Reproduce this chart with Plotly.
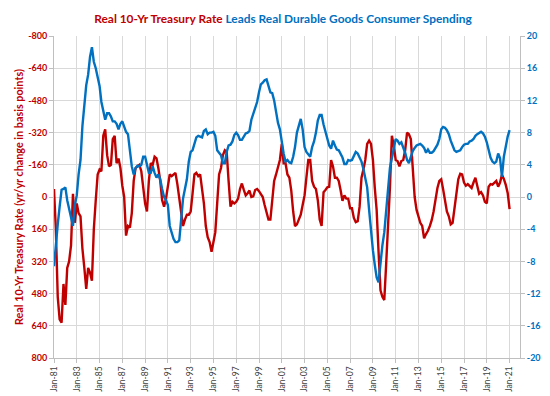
import pandas as pd
import plotly.graph_objects as go

# Bimonthly observations, Jan-1981 .. Jan-2021
start_date = "1981-01-01"
n_points = 241

treasury_bp = [
    -40, 160, 496, 608, 624, 432, 536, 352, 320, 240,
    -16, 128, 32, 80, 96, 256, 352, 456, 352, 376,
    416, 160, 16, -112, -136, -128, -304, -336, -208, -152,
    -160, -288, -304, -168, -192, -144, -56, 0, 192, 144,
    152, 80, -80, -144, -152, -160, -128, -48, 32, 72,
    -80, -168, -160, -200, -192, -144, -80, 16, 48, 8,
    -64, -112, -104, -112, -120, -64, 8, 96, 144, 112,
    88, 88, 72, -16, -112, -120, -104, -112, -32, 32,
    144, 200, 224, 272, 224, 176, 32, -112, -144, -208,
    -232, -224, -80, 48, 24, 32, 24, 8, -40, -67,
    -35, -8, -19, -32, 0, -3, -35, -40, -29, -13,
    0, 40, 72, 112, 112, 0, -80, -112, -152, -184,
    -264, -168, -168, -112, -96, -32, 72, 144, 136, 112,
    88, 40, -8, -96, -184, -184, -80, -51, -40, 16,
    112, 144, -24, -35, -48, -51, -184, -152, -96, -96,
    -80, -35, 19, -8, 8, 8, 56, 56, 104, 125,
    120, 48, -96, -136, -184, -264, -280, -264, -184, -48,
    64, 272, 464, 496, 512, 336, 160, -48, -304, -256,
    -184, -179, -152, -179, -184, -232, -320, -312, -288, -128,
    0, 64, 104, 128, 144, 205, 184, 168, 144, 115,
    72, 13, -45, -80, -88, -40, 8, 72, 96, 136,
    128, 48, -32, -88, -115, -112, -72, -56, -64, -56,
    -45, -72, -96, -56, -16, -24, -8, 24, 32, -51,
    -64, -61, -70, -80, -51, -72, -110, -90, -60, -20,
    60,
]

durables_roc = [
    -8.6, -5.6, -3.4, -1.2, 0.9, 1.0, 1.2, -0.4, -1.6, -2.6,
    -3.6, -1.0, 0.2, 2.8, 4.6, 8.8, 11.4, 13.9, 15.2, 17.4,
    18.6, 16.8, 16.0, 15.0, 13.8, 11.8, 10.6, 9.6, 10.4, 10.4,
    10.0, 9.4, 9.4, 9.1, 8.4, 9.1, 9.4, 8.6, 8.1, 7.8,
    5.6, 3.8, 2.8, 3.6, 3.9, 3.8, 4.0, 5.0, 5.0, 3.8,
    3.0, 3.0, 3.8, 3.0, 2.4, 2.8, 2.2, 1.0, 0.0, -0.4,
    -1.0, -3.6, -4.4, -5.2, -5.6, -5.6, -5.4, -2.4, -0.2, 1.0,
    2.2, 4.4, 5.6, 5.8, 6.8, 7.4, 7.6, 7.5, 7.4, 8.2,
    8.4, 7.8, 8.0, 8.0, 8.1, 7.6, 5.8, 5.5, 5.2, 4.2,
    4.2, 5.6, 6.4, 6.5, 6.9, 7.7, 8.0, 7.7, 7.1, 7.1,
    7.6, 7.9, 8.0, 8.2, 9.6, 10.3, 10.9, 11.8, 13.0, 14.0,
    14.2, 14.5, 14.6, 13.6, 13.0, 12.9, 12.0, 10.6, 9.2, 8.4,
    6.8, 5.4, 4.4, 4.6, 4.3, 4.2, 5.0, 6.2, 8.0, 8.8,
    9.7, 8.4, 6.2, 5.6, 5.3, 5.0, 6.2, 6.9, 8.0, 9.5,
    10.2, 10.2, 9.0, 8.1, 7.0, 6.4, 6.0, 7.0, 6.4, 5.9,
    5.8, 5.3, 4.9, 4.1, 4.1, 4.6, 4.5, 4.6, 5.1, 5.6,
    5.4, 4.9, 4.4, 3.5, 2.4, 1.2, -1.6, -4.4, -6.6, -8.4,
    -10.0, -10.6, -8.0, -6.0, -4.4, -2.0, 1.2, 3.6, 4.8, 6.0,
    7.2, 7.0, 6.6, 6.8, 6.2, 5.5, 4.6, 4.2, 5.0, 5.7,
    6.1, 6.4, 6.5, 6.6, 6.4, 6.1, 5.5, 5.9, 5.5, 5.5,
    5.7, 6.1, 6.5, 7.2, 8.4, 8.7, 8.6, 8.3, 7.8, 7.0,
    6.3, 5.8, 5.6, 5.7, 5.8, 6.2, 6.5, 6.6, 6.6, 6.9,
    7.0, 7.2, 7.6, 7.8, 8.0, 8.1, 7.9, 7.5, 6.8, 5.8,
    4.9, 4.4, 4.2, 4.4, 5.4, 4.8, 2.5, 5.0, 6.5, 7.5,
    8.3,
]

left_ticks = [-800, -640, -480, -320, -160, 0, 160, 320, 480, 640, 800]
right_ticks = [20, 16, 12, 8, 4, 0, -4, -8, -12, -16, -20]

title_red = "Real 10-Yr Treasury Rate"
title_blue = "Leads Real Durable Goods Consumer Spending"
left_title = "Real 10-Yr Treasury Rate (yr/yr change in basis points)"
right_title = "Real Durable Goods Consumer Spending (12-mo ROC)"

RED = "#C00000"
BLUE = "#0070C0"
GRID = "#D9D9D9"
AXIS = "#BFBFBF"
FONT = "Lato"

dates = pd.date_range(start_date, periods=n_points, freq="2MS")

fig = go.Figure()
fig.add_trace(go.Scatter(x=dates, y=treasury_bp, mode="lines",
                         line=dict(color=RED, width=2.4), yaxis="y",
                         showlegend=False))
fig.add_trace(go.Scatter(x=dates, y=durables_roc, mode="lines",
                         line=dict(color=BLUE, width=2.4), yaxis="y2",
                         showlegend=False))

fig.update_layout(
    width=550, height=396,
    margin=dict(l=46, r=38, t=28, b=34),
    paper_bgcolor="white", plot_bgcolor="white",
    font=dict(family=FONT),
    title=dict(
        text=f"<b><span style='color:{RED}'>{title_red}</span> "
             f"<span style='color:{BLUE}'>{title_blue}</span></b>",
        x=0.5, xanchor="center", xref="container",
        y=1 - 11 / 396, yanchor="middle", yref="container",
        font=dict(family=FONT, size=11.9),
    ),
    xaxis=dict(
        type="date",
        range=["1981-01-01", "2021-12-01"],
        tick0="1981-01-01", dtick="M24", tickformat="%b-%y",
        tickangle=-90,
        tickfont=dict(family=FONT, size=8.5, color="#404040"),
        showgrid=True, gridcolor=GRID, gridwidth=1,
        showline=True, linecolor=AXIS, linewidth=1,
        ticks="outside", ticklen=4, tickcolor=AXIS,
        zeroline=False,
    ),
    yaxis=dict(
        range=[800, -800],
        tickvals=left_ticks, ticktext=[str(v) for v in left_ticks],
        tickfont=dict(family=FONT, size=9, color=RED, weight="bold"),
        showgrid=True, gridcolor=GRID, gridwidth=1,
        showline=True, linecolor=AXIS, linewidth=1,
        ticks="outside", ticklen=4, tickcolor=AXIS,
        zeroline=False,
    ),
    yaxis2=dict(
        range=[-20, 20], overlaying="y", side="right",
        tickvals=right_ticks, ticktext=[str(v) for v in right_ticks],
        tickfont=dict(family=FONT, size=9, color=BLUE, weight="bold"),
        showgrid=False,
        showline=True, linecolor=AXIS, linewidth=1,
        ticks="outside", ticklen=4, tickcolor=AXIS,
        zeroline=False,
    ),
    annotations=[
        dict(text=f"<b>{left_title}</b>", xref="paper", yref="paper",
             x=(10 - 46) / 466, y=0.5, xanchor="center", yanchor="middle",
             textangle=-90, showarrow=False, borderpad=0,
             font=dict(family=FONT, size=10.8, color=RED)),
        dict(text=f"<b>{right_title}</b>", xref="paper", yref="paper",
             x=(538 - 46) / 466, y=0.53, xanchor="center", yanchor="middle",
             textangle=-90, showarrow=False, borderpad=0,
             font=dict(family=FONT, size=10, color=BLUE)),
    ],
)

fig.write_html("out.html")
